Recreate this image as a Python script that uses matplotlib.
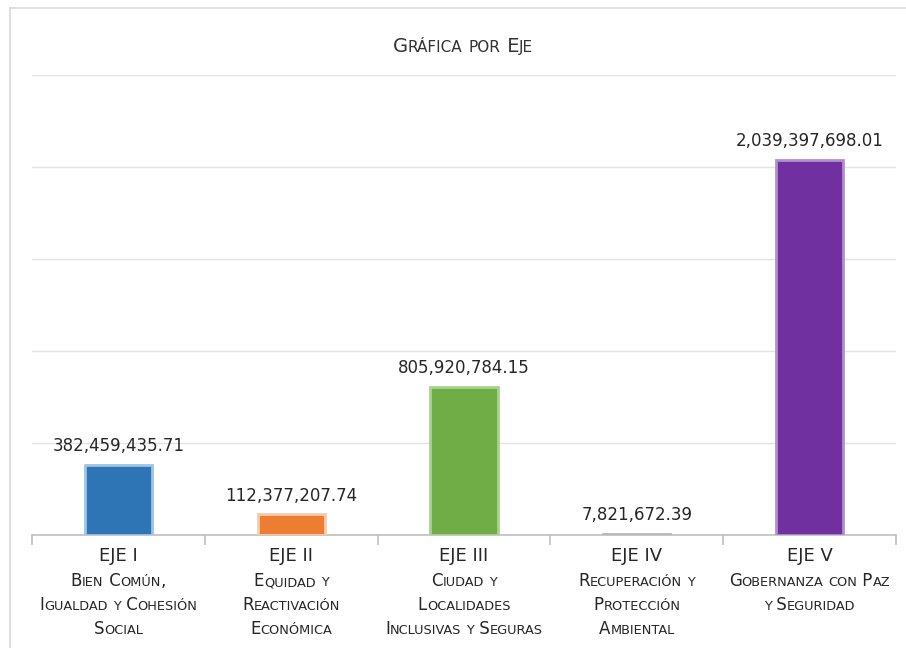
import matplotlib
matplotlib.use("Agg")
import matplotlib.pyplot as plt
from matplotlib.font_manager import FontProperties
from matplotlib.lines import Line2D

# ---- data ----
ejes = ["EJE I", "EJE II", "EJE III", "EJE IV", "EJE V"]
descripciones = [
    ["Bien Común,", "Igualdad y Cohesión", "Social"],
    ["Equidad y", "Reactivación", "Económica"],
    ["Ciudad y", "Localidades", "Inclusivas y Seguras"],
    ["Recuperación y", "Protección", "Ambiental"],
    ["Gobernanza con Paz", "y Seguridad"],
]
montos = [382459435.71, 112377207.74, 805920784.15, 7821672.39, 2039397698.01]
colores = ["#2E75B6", "#ED7D31", "#70AD47", "#A5A5A5", "#7030A0"]
bordes = ["#9DC3E6", "#F8CBAD", "#A9D18E", "#B8B8B8", "#B08FD0"]
titulo = "Gráfica por Eje"

W, H = 906, 648
fig = plt.figure(figsize=(W / 100, H / 100), dpi=100)
fig.patch.set_facecolor("white")

# outer chart border (left and top)
fig.add_artist(Line2D([10 / W, 10 / W], [0, 1 - 8 / H], color="#D9D9D9", lw=1.2))
fig.add_artist(Line2D([10 / W, 1], [1 - 8 / H, 1 - 8 / H], color="#D9D9D9", lw=1.2))

x0, x1 = 32, 896
ytop, ybase = 75, 535
ax = fig.add_axes([x0 / W, (H - ybase) / H, (x1 - x0) / W, (ybase - ytop) / H])
ax.set_xlim(-0.5, len(ejes) - 0.5)
ax.set_ylim(0, 2.5e9)
ax.set_facecolor("none")
for s in ["top", "right", "left"]:
    ax.spines[s].set_visible(False)
ax.spines["bottom"].set_color("#BFBFBF")
ax.spines["bottom"].set_linewidth(1.2)
ax.set_yticks([0, 5e8, 1e9, 1.5e9, 2e9, 2.5e9])
ax.yaxis.grid(True, color="#E3E3E3", lw=1.0)
ax.set_axisbelow(True)
ax.tick_params(axis="y", left=False, labelleft=False)
ax.set_xticks([i - 0.5 for i in range(len(ejes) + 1)])
ax.tick_params(axis="x", direction="out", length=7, color="#BFBFBF", width=1.2, labelbottom=False)

xs = list(range(len(ejes)))
ax.bar(xs, montos, width=0.39, color=colores, edgecolor=bordes, linewidth=2.0, zorder=3)
for x, v in zip(xs, montos):
    ax.annotate(f"{v:,.2f}", (x, v), xytext=(0, 7), textcoords="offset points",
                ha="center", va="bottom", fontsize=12, color="#262626",
                family="DejaVu Sans")

fig.canvas.draw()
renderer = fig.canvas.get_renderer()


def small_caps(xc, yb, s, big, small, color="#262626"):
    """Draw s in simulated small caps centred at pixel x=xc, baseline at pixel y=yb (from top)."""
    runs = []
    for ch in s:
        is_big = not ch.islower()
        txt = ch.upper()
        if runs and runs[-1][1] == is_big:
            runs[-1][0] += txt
        else:
            runs.append([txt, is_big])
    pieces = []
    total = 0.0
    for txt, is_big in runs:
        fp = FontProperties(family="DejaVu Sans", size=big if is_big else small)
        w, h, d = renderer.get_text_width_height_descent(txt, fp, ismath=False)
        pieces.append((txt, fp, w))
        total += w
    x = xc - total / 2
    for txt, fp, w in pieces:
        fig.text(x / W, (H - yb) / H, txt, fontproperties=fp, ha="left",
                 va="baseline", color=color)
        x += w


# title
small_caps(W / 2 + 10, 52, titulo, 14, 11, color="#333333")

# category labels
for i, (eje, desc) in enumerate(zip(ejes, descripciones)):
    xc = ax.transData.transform((i, 0))[0]
    fig.text(xc / W, (H - 561) / H, eje, ha="center", va="baseline",
             fontsize=13, color="#262626", family="DejaVu Sans")
    for j, line in enumerate(desc):
        small_caps(xc, 586 + 24 * j, line, 12, 9.3, color="#262626")

fig.savefig("out.png", dpi=100, facecolor="white")
